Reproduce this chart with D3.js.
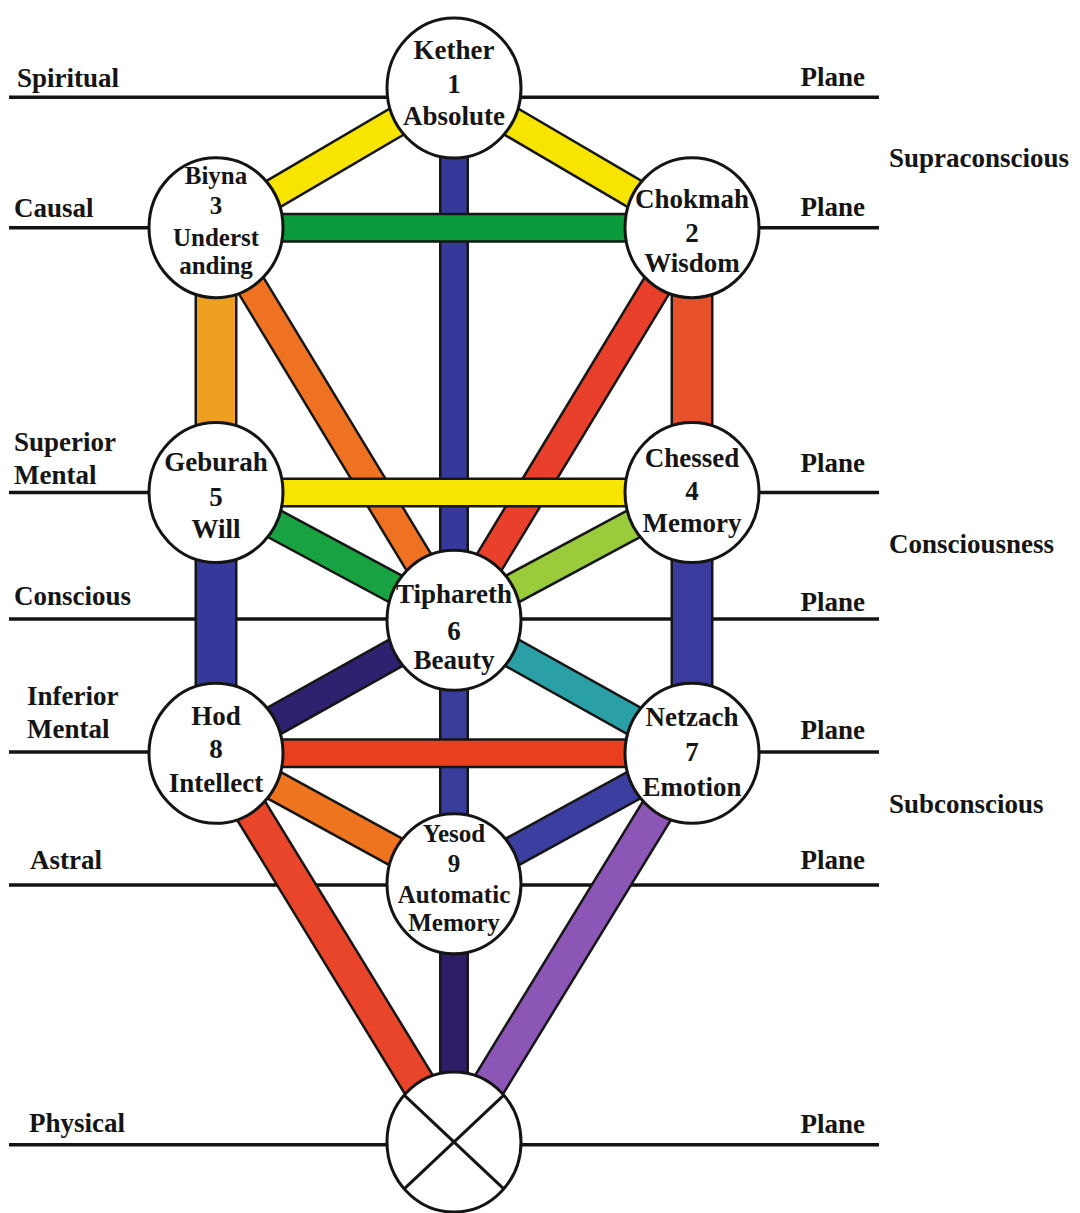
<!DOCTYPE html>
<html>
<head>
<meta charset="utf-8">
<script src="https://cdn.jsdelivr.net/npm/d3@7"></script>
<style>
  body { margin: 0; background: #fff; }
  text { font-family: "Liberation Serif", "Times New Roman", serif; font-weight: bold; font-size: 27px; fill: #151515; }
</style>
</head>
<body>
<div class="chart"></div>
<script>
// Sephiroth: names, numbers, meanings, pillar (-1 left, 0 middle, 1 right) and level down the tree
var names    = ["Kether", "Chokmah", "Biyna", "Chessed", "Geburah", "Tiphareth", "Netzach", "Hod", "Yesod", "Malkuth"];
var numbers  = ["1", "2", "3", "4", "5", "6", "7", "8", "9", ""];
var meanings = [["Absolute"], ["Wisdom"], ["Underst", "anding"], ["Memory"], ["Will"],
                ["Beauty"], ["Emotion"], ["Intellect"], ["Automatic", "Memory"], []];
var pillar   = [0, 1, -1, 1, -1, 0, 1, -1, 0, 0];
var level    = [0, 1.06, 1.06, 3.07, 3.07, 4.04, 5.05, 5.05, 6.04, 8];

// paths between sephiroth, in drawing order
var paths = [
  ["Kether", "Tiphareth"], ["Tiphareth", "Yesod"], ["Yesod", "Malkuth"],
  ["Biyna", "Geburah"], ["Chokmah", "Chessed"], ["Geburah", "Hod"], ["Chessed", "Netzach"],
  ["Kether", "Biyna"], ["Kether", "Chokmah"],
  ["Biyna", "Tiphareth"], ["Chokmah", "Tiphareth"],
  ["Geburah", "Tiphareth"], ["Chessed", "Tiphareth"],
  ["Tiphareth", "Hod"], ["Tiphareth", "Netzach"],
  ["Hod", "Yesod"], ["Netzach", "Yesod"],
  ["Hod", "Malkuth"], ["Netzach", "Malkuth"],
  ["Biyna", "Chokmah"], ["Geburah", "Chessed"], ["Hod", "Netzach"]
];
var pathColors = [
  "#37399a", "#393d9c", "#2c1d66",
  "#f0a020", "#e6502a", "#37399a", "#3a3b9c",
  "#f7e400", "#f7e400",
  "#ef7223", "#e8402a",
  "#18a242", "#9acb3a",
  "#2f2170", "#2a9fa5",
  "#ef7420", "#3c3ea0",
  "#e8452b", "#8b56b5",
  "#0b9a3c", "#f7e400", "#e8401f"
];
var pathWidths = [25, 25, 25, 38, 38, 38, 38, 27, 27, 27, 27, 27, 27, 27, 27, 27, 27, 31, 31, 25, 25, 25];

// planes of consciousness
var planes      = ["Spiritual", "Causal", "Superior Mental", "Conscious", "Inferior Mental", "Astral", "Physical"];
var planeLabels = [["Spiritual"], ["Causal"], ["Superior", "Mental"], ["Conscious"], ["Inferior", "Mental"], ["Astral"], ["Physical"]];
var planeLevel  = [0.07, 1.06, 3.07, 4.03, 5.04, 6.05, 8.02];

var zones      = ["Supraconscious", "Consciousness", "Subconscious"];
var zoneLevel  = [0.6, 3.53, 5.5];

// layout
var svgWidth = 1080, svgHeight = 1213;
var leftX  = [17, 14, 14, 14, 27, 30, 29];
var leftDy = [-10, -11, -8, -14, -14, -16, -13];
var rightDy = [-11, -12, -20, -8, -13, -16, -12];
var textOffsets = [[-29, 5, 37], [-20, 14, 44], [-44, -14, 18, 46], [-25, 8, 40], [-21, 14, 46],
                   [-17, 20, 49], [-27, 8, 43], [-28, 5, 39], [-42, -12, 19, 47], []];

var x = d3.scaleLinear().domain([-1, 1]).range([216, 692]);
var y = d3.scaleLinear().domain([0, 8]).range([88, 1142]);

var nodes = names.map(function(n, i) {
  return { name: n, num: numbers[i], meaning: meanings[i], cx: x(pillar[i]), cy: y(level[i]), off: textOffsets[i] };
});
var byName = {};
nodes.forEach(function(d) { byName[d.name] = d; });

var svg = d3.select(".chart").append("svg")
  .attr("width", svgWidth)
  .attr("height", svgHeight)
  .style("display", "block");

svg.append("rect").attr("width", svgWidth).attr("height", svgHeight).attr("fill", "#fff");

// plane lines
var planeG = svg.append("g");
planeG.selectAll("line")
  .data(planes)
  .enter().append("line")
  .attr("x1", 9)
  .attr("x2", 879)
  .attr("y1", function(d, i) { return y(planeLevel[i]); })
  .attr("y2", function(d, i) { return y(planeLevel[i]); })
  .attr("stroke", "#141414")
  .attr("stroke-width", 3.5);

// left plane labels and right "Plane"
planes.forEach(function(p, i) {
  var lines = planeLabels[i];
  var base = y(planeLevel[i]) + leftDy[i];
  lines.forEach(function(t, j) {
    planeG.append("text")
      .attr("x", leftX[i])
      .attr("y", base - (lines.length - 1 - j) * 33)
      .text(t);
  });
  planeG.append("text")
    .attr("x", 865)
    .attr("y", y(planeLevel[i]) + rightDy[i])
    .attr("text-anchor", "end")
    .text("Plane");
});

// zone labels
svg.append("g").selectAll("text")
  .data(zones)
  .enter().append("text")
  .attr("x", 889)
  .attr("y", function(d, i) { return y(zoneLevel[i]); })
  .text(function(d) { return d; });

// paths: outline then colour
var pathG = svg.append("g");
paths.forEach(function(p, i) {
  var a = byName[p[0]], b = byName[p[1]];
  pathG.append("line")
    .attr("x1", a.cx).attr("y1", a.cy).attr("x2", b.cx).attr("y2", b.cy)
    .attr("stroke", "#161616")
    .attr("stroke-width", pathWidths[i] + 5);
  pathG.append("line")
    .attr("x1", a.cx).attr("y1", a.cy).attr("x2", b.cx).attr("y2", b.cy)
    .attr("stroke", pathColors[i])
    .attr("stroke-width", pathWidths[i]);
});

// sephiroth circles
var rx = 67, ry = 70;
var nodeG = svg.append("g").selectAll("g")
  .data(nodes)
  .enter().append("g");

nodeG.append("ellipse")
  .attr("cx", function(d) { return d.cx; })
  .attr("cy", function(d) { return d.cy; })
  .attr("rx", rx)
  .attr("ry", ry)
  .attr("fill", "#fff")
  .attr("stroke", "#141414")
  .attr("stroke-width", 3);

nodeG.each(function(d) {
  var g = d3.select(this);
  var lines = d.name === "Malkuth" ? [] : [d.name, d.num].concat(d.meaning);
  lines.forEach(function(t, j) {
    g.append("text")
      .attr("x", d.cx)
      .attr("y", d.cy + d.off[j])
      .attr("text-anchor", "middle")
      .style("font-size", lines.length > 3 ? "25px" : null)
      .text(t);
  });
});

// the cross in Malkuth
var m = byName["Malkuth"];
var ang = 42 * Math.PI / 180;
var dx = rx * Math.cos(ang), dy = ry * Math.sin(ang);
[[-1, -1, 1, 1], [1, -1, -1, 1]].forEach(function(s) {
  svg.append("line")
    .attr("x1", m.cx + s[0] * dx).attr("y1", m.cy + s[1] * dy)
    .attr("x2", m.cx + s[2] * dx).attr("y2", m.cy + s[3] * dy)
    .attr("stroke", "#141414")
    .attr("stroke-width", 3);
});
</script>
</body>
</html>
